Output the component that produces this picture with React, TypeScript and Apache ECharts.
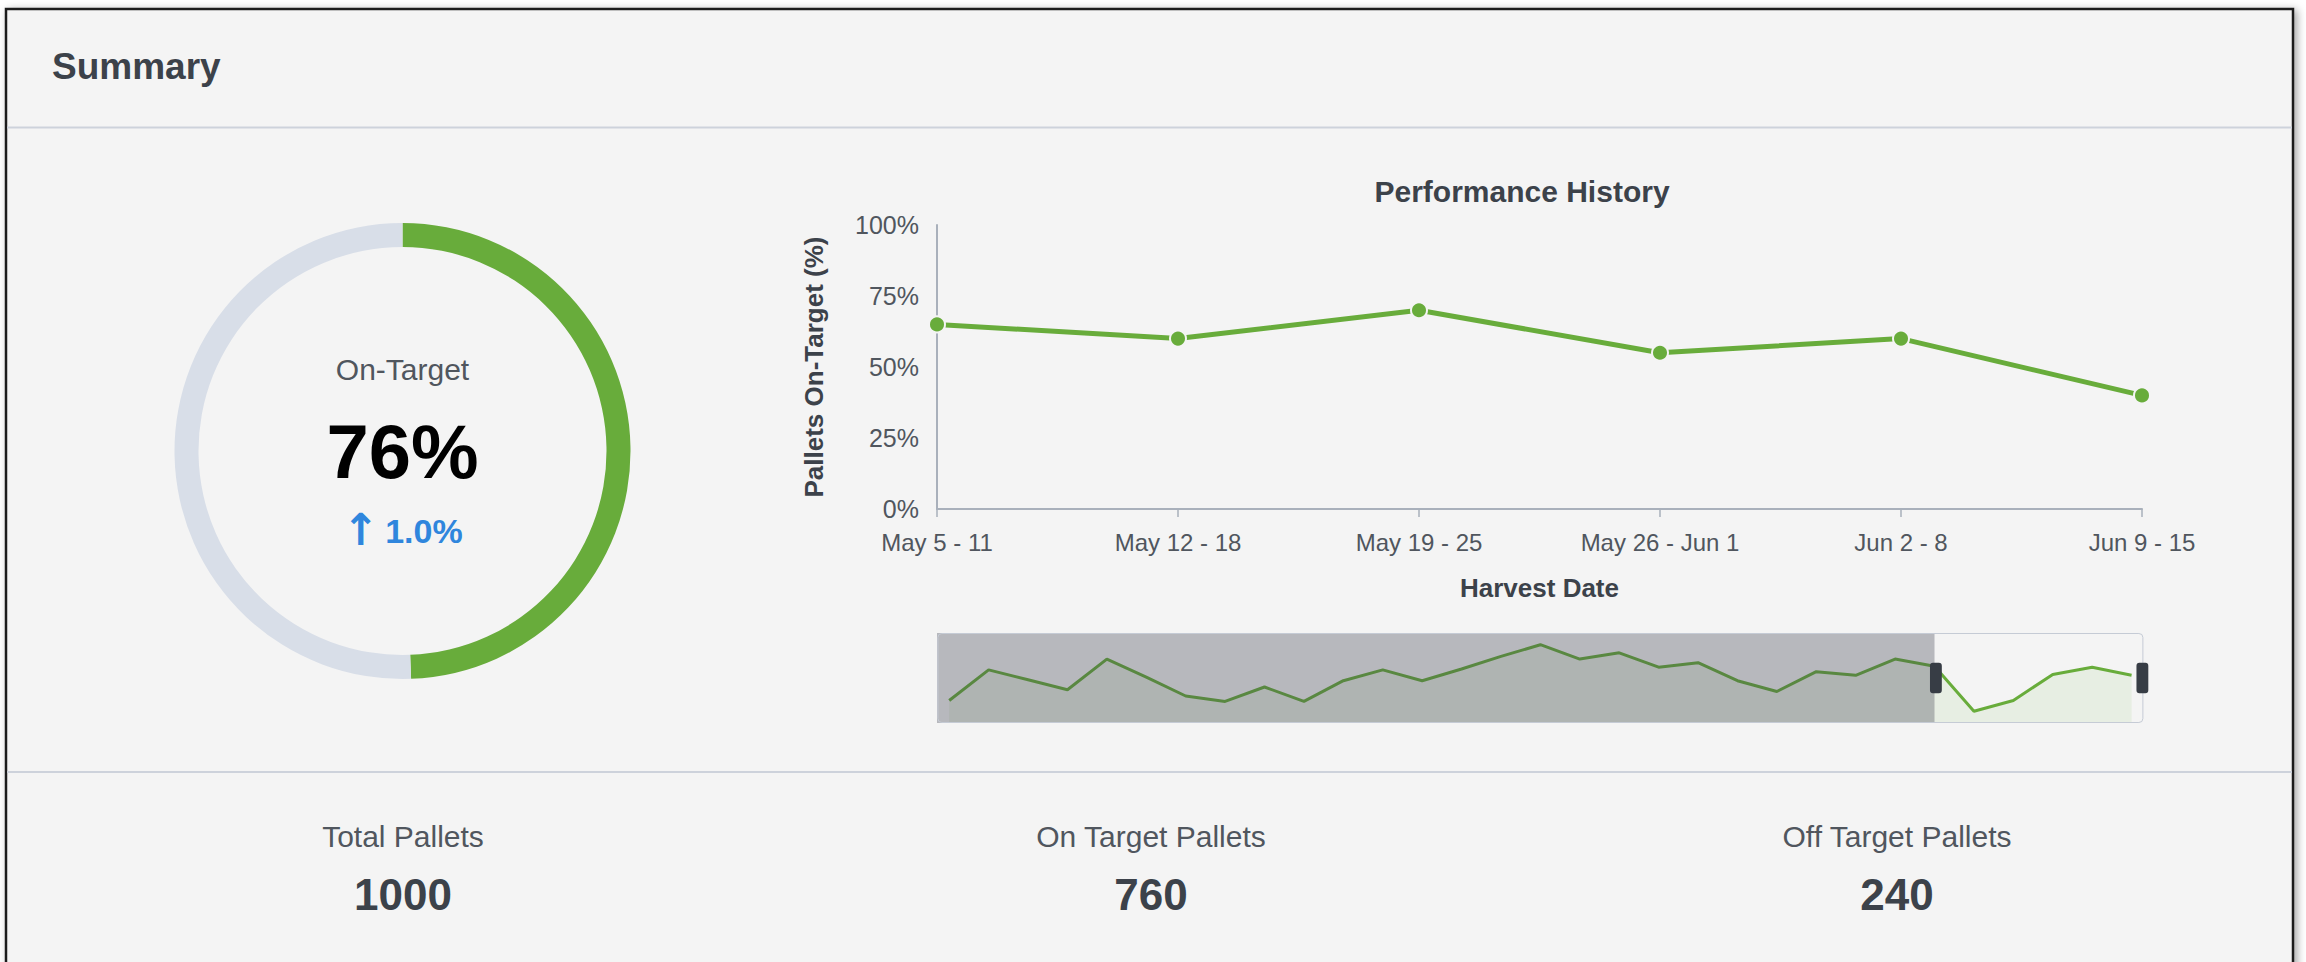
import React, { useEffect, useRef } from 'react';
import * as echarts from 'echarts';

// ---------- data ----------
const weekLabels = ['May 5 - 11', 'May 12 - 18', 'May 19 - 25', 'May 26 - Jun 1', 'Jun 2 - 8', 'Jun 9 - 15'];
const onTargetHistory = [65, 60, 70, 55, 60, 40];
const yAxisTicks = [0, 25, 50, 75, 100];

const overviewValues = [25, 59, 48, 37, 71, 51, 30, 24, 40, 24, 47, 59, 47, 60, 74, 87, 71, 78, 62, 67, 47, 35, 57, 53, 71, 63, 13, 25, 54, 62, 53];
const overviewSelectionStart = [25];

const ringLabels = ['On-Target', 'Remaining'];
const ringValues = [49.4, 50.6];
const headlinePercent = [76];
const changePercent = [1.0];

const statLabels = ['Total Pallets', 'On Target Pallets', 'Off Target Pallets'];
const statValues = [1000, 760, 240];

// ---------- styles ----------
const FONT = '"Liberation Sans", Arial, Helvetica, sans-serif';
const GREEN = '#68ac3b';
const AXIS = '#a9b0bb';
const DARK = '#3c424a';
const MID = '#50565e';
const BLUE = '#2f86dd';

export default function App() {
  const ref = useRef<HTMLDivElement>(null);

  useEffect(() => {
    if (!ref.current) return;
    const chart = echarts.init(ref.current, undefined, { renderer: 'svg' });

    const statX = [403, 1151, 1897];
    const overviewPairs = overviewValues.map((v, i) => [i, v]);

    const graphics: any[] = [
      {
        type: 'rect', z: -5,
        shape: { x: 6, y: 9, width: 2287, height: 980 },
        style: { fill: '#f4f4f4', stroke: '#1c1c1c', lineWidth: 2.5, shadowBlur: 8, shadowColor: 'rgba(0,0,0,0.35)', shadowOffsetX: 3, shadowOffsetY: 2 },
      },
      { type: 'line', z: -4, shape: { x1: 7, y1: 127.5, x2: 2292, y2: 127.5 }, style: { stroke: '#cdd2db', lineWidth: 2 } },
      { type: 'line', z: -4, shape: { x1: 7, y1: 772, x2: 2292, y2: 772 }, style: { stroke: '#cdd2db', lineWidth: 2 } },
      {
        type: 'text', z: 5, x: 52, y: 66,
        style: { text: 'Summary', fontFamily: FONT, fontSize: 37, fontWeight: 'bold', fill: DARK, align: 'left', verticalAlign: 'middle' },
      },
      {
        type: 'text', z: 5, x: 402.5, y: 369,
        style: { text: ringLabels[0], fontFamily: FONT, fontSize: 30, fill: MID, align: 'center', verticalAlign: 'middle' },
      },
      {
        type: 'text', z: 5, x: 402.5, y: 451,
        style: { text: headlinePercent[0] + '%', fontFamily: FONT, fontSize: 76, fontWeight: 'bold', fill: '#000000', align: 'center', verticalAlign: 'middle' },
      },
      {
        type: 'text', z: 5, x: 402.5, y: 531,
        style: {
          text: '{a|\u2191}{b|' + changePercent[0].toFixed(1) + '%}',
          align: 'center',
          verticalAlign: 'middle',
          fill: BLUE,
          rich: {
            a: { fontFamily: '"DejaVu Sans", sans-serif', fontSize: 44, fontWeight: 'bold', fill: BLUE, color: BLUE, verticalAlign: 'middle', padding: [0, 6, 4, 0] },
            b: { fontFamily: FONT, fontSize: 34, fontWeight: 'bold', fill: BLUE, color: BLUE, verticalAlign: 'middle' },
          },
        },
      },
    ];

    statLabels.forEach((label, i) => {
      graphics.push({
        type: 'text', z: 5, x: statX[i], y: 836,
        style: { text: label, fontFamily: FONT, fontSize: 30, fill: MID, align: 'center', verticalAlign: 'middle' },
      });
      graphics.push({
        type: 'text', z: 5, x: statX[i], y: 894,
        style: { text: String(statValues[i]), fontFamily: FONT, fontSize: 44, fontWeight: 'bold', fill: DARK, align: 'center', verticalAlign: 'middle' },
      });
    });

    const option: any = {
      animation: false,
      backgroundColor: '#ffffff',
      textStyle: { fontFamily: FONT },
      title: {
        text: 'Performance History',
        left: 1522,
        top: 176,
        textAlign: 'center',
        padding: 0,
        textStyle: { fontFamily: FONT, fontSize: 30, fontWeight: 'bold', color: DARK },
      },
      graphic: { elements: graphics },
      grid: [
        { left: 937, top: 225, width: 1205, height: 284 },
        { left: 937, top: 633, width: 1206, height: 90 },
      ],
      xAxis: [
        {
          type: 'category',
          gridIndex: 0,
          data: weekLabels,
          boundaryGap: false,
          axisLine: { lineStyle: { color: AXIS, width: 2 } },
          axisTick: { show: true, length: 8, alignWithLabel: true, lineStyle: { color: AXIS, width: 1.5 } },
          axisLabel: { color: MID, fontSize: 24, margin: 21, fontFamily: FONT },
          splitLine: { show: false },
          name: 'Harvest Date',
          nameLocation: 'middle',
          nameGap: 66,
          nameTextStyle: { fontFamily: FONT, fontSize: 26, fontWeight: 'bold', color: DARK },
        },
        { type: 'value', gridIndex: 1, min: -0.31, max: 30.29, show: false },
        { type: 'value', gridIndex: 1, min: -0.31, max: 30.29, show: false },
      ],
      yAxis: [
        {
          type: 'value',
          gridIndex: 0,
          min: yAxisTicks[0],
          max: yAxisTicks[yAxisTicks.length - 1],
          interval: yAxisTicks[1] - yAxisTicks[0],
          axisLine: { show: true, lineStyle: { color: AXIS, width: 2 } },
          axisTick: { show: false },
          splitLine: { show: false },
          axisLabel: { formatter: '{value}%', color: MID, fontSize: 25, margin: 18, fontFamily: FONT },
          name: 'Pallets On-Target (%)',
          nameLocation: 'middle',
          nameGap: 110,
          nameTextStyle: { fontFamily: FONT, fontSize: 26, fontWeight: 'bold', color: DARK },
        },
        { type: 'value', gridIndex: 1, min: 0, max: 100, show: false },
        { type: 'value', gridIndex: 1, min: 0, max: 100, show: false },
      ],
      dataZoom: [
        {
          type: 'slider',
          xAxisIndex: 2,
          filterMode: 'none',
          startValue: overviewSelectionStart[0],
          end: 100,
          left: 937,
          width: 1206,
          top: 633,
          height: 90,
          z: 6,
          showDataShadow: false,
          showDetail: false,
          brushSelect: false,
          moveHandleSize: 0,
          moveHandleStyle: { opacity: 0 },
          backgroundColor: 'rgba(0,0,0,0)',
          fillerColor: 'rgba(0,0,0,0)',
          borderColor: '#c5cbd5',
          borderRadius: 4,
          handleIcon: 'path://M3,0H9A3,3,0,0,1,12,3V28A3,3,0,0,1,9,31H3A3,3,0,0,1,0,28V3A3,3,0,0,1,3,0Z',
          handleSize: '34%',
          handleStyle: { color: '#373d45', borderWidth: 0 },
        },
      ],
      series: [
        {
          type: 'pie',
          name: 'On-Target share',
          center: [402.5, 451],
          radius: [204, 228],
          startAngle: 90,
          clockwise: true,
          silent: true,
          label: { show: false },
          labelLine: { show: false },
          emphasis: { disabled: true },
          itemStyle: { borderWidth: 0 },
          data: [
            { name: ringLabels[0], value: ringValues[0], itemStyle: { color: GREEN } },
            { name: ringLabels[1], value: ringValues[1], itemStyle: { color: '#d8dee8' } },
          ],
        },
        {
          type: 'line',
          name: 'Pallets On-Target',
          xAxisIndex: 0,
          yAxisIndex: 0,
          data: onTargetHistory,
          symbol: 'circle',
          symbolSize: 16,
          showAllSymbol: true,
          lineStyle: { color: GREEN, width: 5 },
          itemStyle: { color: GREEN, borderColor: '#f4f4f4', borderWidth: 2 },
          z: 3,
        },
        {
          type: 'line',
          name: 'Overview',
          xAxisIndex: 1,
          yAxisIndex: 1,
          data: overviewPairs,
          symbol: 'none',
          lineStyle: { color: GREEN, width: 3 },
          areaStyle: { color: 'rgba(104,172,59,0.13)', origin: 'start' },
          silent: true,
          z: 2,
          markArea: {
            silent: true,
            z: 3,
            itemStyle: { color: 'rgba(60,65,78,0.33)', borderWidth: 0 },
            label: { show: false },
            data: [[{}, { xAxis: overviewSelectionStart[0] }]],
          },
        },
        {
          type: 'line',
          name: 'Zoom target',
          xAxisIndex: 2,
          yAxisIndex: 2,
          data: overviewPairs,
          symbol: 'none',
          silent: true,
          lineStyle: { opacity: 0, width: 0 },
          itemStyle: { opacity: 0 },
          z: 0,
        },
      ],
    };

    chart.setOption(option);
    return () => chart.dispose();
  }, []);

  return <div ref={ref} style={{ position: 'fixed', left: 0, top: 0, width: 2306, height: 962 }} />;
}
